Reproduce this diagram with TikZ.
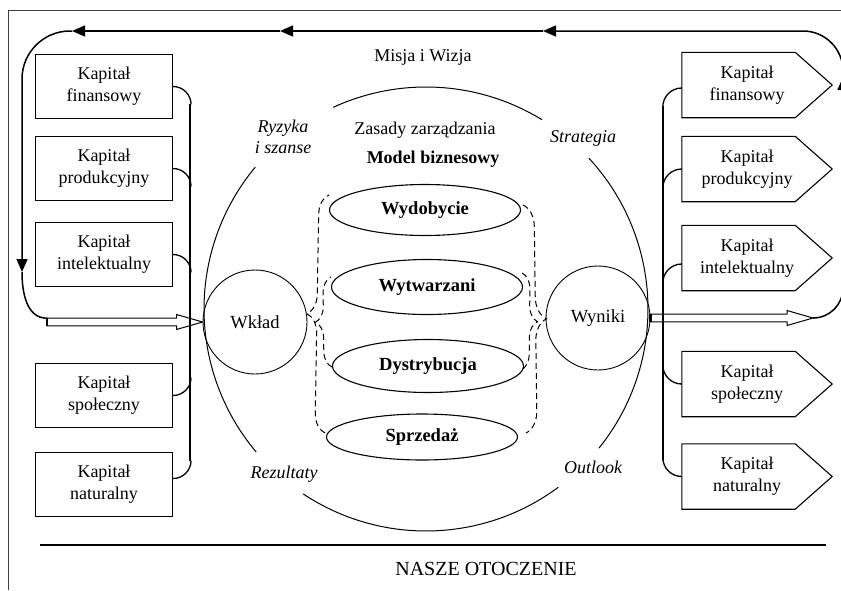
\documentclass[tikz,border=0pt]{standalone}
\usepackage{fontspec}
\setmainfont{Liberation Serif}
\usetikzlibrary{shapes.geometric,arrows.meta,decorations.pathreplacing,calc}

% hollow arrow from #1 (tail) to #2 (tip), horizontal
\newcommand{\hollowarr}[2]{%
\draw[line width=1pt,line join=miter] ($(#1)+(0,3.8)$) -- ($(#2)+(-26,3.8)$) -- ($(#2)+(-26,7.5)$) -- (#2)
  -- ($(#2)+(-26,-7.5)$) -- ($(#2)+(-26,-3.8)$) -- ($(#1)+(0,-3.8)$) -- cycle;
\draw[line width=2.5pt] ($(#1)+(0,3.8)$) -- ($(#1)+(0,-3.8)$);}

\begin{document}
\begin{tikzpicture}
[x=1pt,y=1pt,%%%%%%%%%%%%%%%%%%%%%%%%%%%%%%
kbox/.style={rectangle,draw=black,line width=1.1pt,minimum width=137pt,minimum height=64pt,align=center,font=\fontsize{18}{22}\selectfont},
kout/.style={rectangle,minimum width=130pt,minimum height=65pt,align=center,font=\fontsize{18}{22}\selectfont},
proc/.style={ellipse,draw=black,line width=1.1pt,minimum width=191pt,font=\fontsize{18.5}{22}\selectfont\bfseries},
ring/.style={circle,draw=black,line width=0.9pt,minimum size=104pt,font=\fontsize{18.5}{22}\selectfont},
txt/.style={font=\fontsize{18}{21}\selectfont,align=center},
lbl/.style={font=\fontsize{18}{21}\selectfont\itshape,align=center},
fb/.style={line width=1.5pt,-{Triangle[length=13pt,width=11pt]}},
link/.style={line width=1.3pt},
dbrace/.style={dash pattern=on 6pt off 4pt,line width=1pt,decorate},
]%%%%%%%%%%%%%%%%%%%%%%%%%%%%%%
\useasboundingbox (0,0) rectangle (841,-590);

% frame
\draw[line width=1pt,black!75] (8,-590) -- (8,-10) -- (841,-10);
\draw[line width=1.2pt] (40,-545) -- (826,-545);

% big ring
\coordinate (mc) at (426,-309);
\foreach \a/\b in {58.5/114.7, 140.3/220.1, 236.4/306.6, -38.8/42.8}
\draw[line width=1pt] ([shift={(\a:222)}]mc) arc[start angle=\a, end angle=\b, radius=222];

\node[txt] (misja) at (423,-57) {Misja i Wizja};
\node[txt] (zasady) at (425,-130) {Zasady zarządzania};
\node[txt,font=\fontsize{18}{21}\selectfont\bfseries] (model) at (433,-159) {Model biznesowy};
\node[lbl] (ryz) at (283,-137) {Ryzyka\\i szanse};
\node[lbl] (strat) at (583,-138) {Strategia};
\node[lbl] (rez) at (284,-474) {Rezultaty};
\node[lbl] (outl) at (593,-467) {Outlook};
\node[txt,font=\fontsize{20}{22}\selectfont] (otocz) at (486,-569) {NASZE OTOCZENIE};

% model
\node[proc,minimum height=51pt] (wyd) at (425,-210) {Wydobycie};
\node[proc,minimum height=55pt] (wyt) at (427,-287) {Wytwarzani};
\node[proc,minimum height=53pt] (dys) at (428,-366) {Dystrybucja};
\node[proc,minimum height=46pt] (spr) at (422,-437) {Sprzedaż};

\node[ring] (wkl) at (255,-322) {Wkład};
\node[ring] (wyn) at (598,-318) {Wyniki};

\draw[dbrace,decoration={brace,amplitude=20pt}] ([xshift=-1pt,yshift=4pt]spr.west) -- ([yshift=15pt]wyd.west);
\draw[dbrace,decoration={brace,amplitude=16pt}] ([yshift=-1pt]dys.west) -- ([yshift=10pt]wyt.west);
\draw[dbrace,decoration={brace,amplitude=22pt}] ([xshift=2pt,yshift=5pt]wyd.east) -- ([xshift=8pt,yshift=4pt]spr.east);
\draw[dbrace,decoration={brace,amplitude=16pt}] ([xshift=-1pt,yshift=14pt]wyt.east) -- ([xshift=-3pt,yshift=-4pt]dys.east);

% capitals in
\foreach \n/\y/\t in {L1/86.5/finansowy, L2/168.5/produkcyjny, L3/254.5/intelektualny, L4/395.5/społeczny, L5/484.5/naturalny}
\node[kbox] (\n) at (104,-\y) {Kapitał\\\t};

\coordinate (lbt) at (190,-104);
\coordinate (lbb) at (190,-461);
\draw[link] (lbt) -- (lbb);
\foreach \n in {L1,L2,L3}
\draw[link] (\n.east) to[out=0,in=90] ++(18,-18);
\draw[link] (L4.east) to[out=0,in=-90] ++(18,18);
\draw[link] ([yshift=6pt]L5.east) to[out=0,in=-90] ++(18,18);

% capitals out
\foreach \n/\y/\t in {R1/85/finansowy, R2/169/produkcyjny, R3/258/intelektualny, R4/384/społeczny, R5/476.5/naturalny}{
\node[kout] (\n) at (747,-\y) {Kapitał\\\t};
\draw[line width=1.1pt] (\n.north west) -- ([xshift=-17pt]\n.north east) -- ([xshift=20pt]\n.east)
  -- ([xshift=-17pt]\n.south east) -- (\n.south west) -- cycle;
}

\coordinate (rbt) at (663,-106);
\coordinate (rbb) at (663,-460);
\draw[link] (rbt) -- (rbb);
\draw[link] ([yshift=-3pt]R1.west) to[out=180,in=90] ++(-19,-19);
\draw[link] (R2.west) to[out=180,in=90] ++(-19,-19);
\draw[link] ([yshift=-6pt]R3.west) to[out=180,in=90] ++(-19,-19);
\draw[link] (R4.west) to[out=180,in=-90] ++(-19,19);
\draw[link] (R5.west) to[out=180,in=-90] ++(-19,19);

% flows
\coordinate (ltail) at (47,-322);
\coordinate (rtip) at (813,-318);
\hollowarr{ltail}{wkl.west}
\hollowarr{wyn.east}{rtip}

% feedback loop
\coordinate (fbR) at (843,-77);
\coordinate (fbA1) at (543,-31);
\coordinate (fbA2) at (280,-31);
\coordinate (fbA3) at (72,-31);
\coordinate (fbL) at (22,-272);
\draw[fb,rounded corners=30pt] (rtip) -| (fbR);
\draw[fb,rounded corners=40pt] (fbR) |- (fbA1);
\draw[fb] (fbA1) -- (fbA2);
\draw[fb] (fbA2) -- (fbA3);
\draw[fb,rounded corners=48pt] (fbA3) -| (fbL);
\draw[line width=1.5pt] (fbL) to[out=-90,in=180] ([yshift=3.8pt]ltail);
\end{tikzpicture}
\end{document}
